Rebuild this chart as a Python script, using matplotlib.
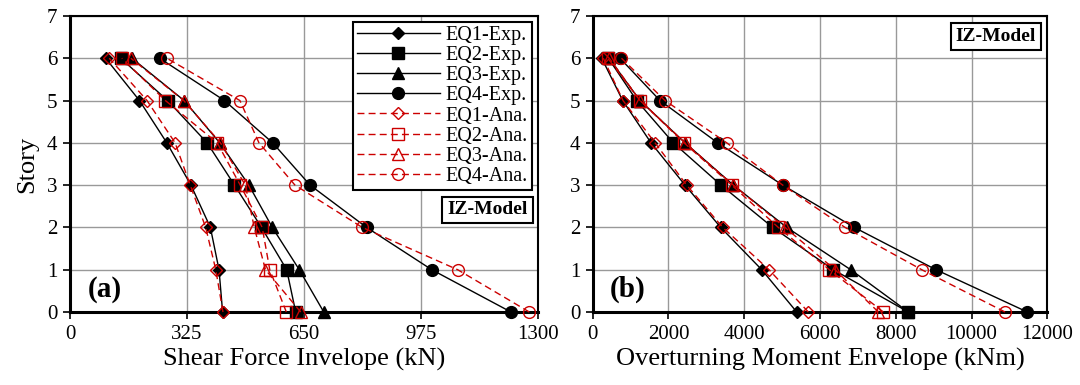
import matplotlib
matplotlib.use("Agg")
import matplotlib.pyplot as plt

plt.rcParams['font.family'] = ['Liberation Serif', 'DejaVu Serif']
plt.rcParams['mathtext.fontset'] = 'stix'

stories = [0, 1, 2, 3, 4, 5, 6]

# Shear force envelope (kN), story 0..6
shear_eq1_exp = [424, 414, 390, 336, 269, 193, 99]
shear_eq2_exp = [627, 602, 532, 457, 381, 271, 141]
shear_eq3_exp = [705, 637, 562, 497, 416, 317, 172]
shear_eq4_exp = [1225, 1005, 824, 667, 563, 429, 249]
shear_eq1_ana = [425, 405, 377, 334, 292, 214, 109]
shear_eq2_ana = [601, 555, 534, 473, 409, 265, 144]
shear_eq3_ana = [641, 543, 512, 487, 418, 316, 169]
shear_eq4_ana = [1276, 1077, 812, 625, 525, 472, 269]

# Overturning moment envelope (kNm), story 0..6
mom_eq1_exp = [5386, 4462, 3379, 2437, 1539, 792, 238]
mom_eq2_exp = [8332, 6352, 4752, 3387, 2128, 1161, 413]
mom_eq3_exp = [8332, 6811, 5122, 3713, 2437, 1249, 430]
mom_eq4_exp = [11473, 9063, 6906, 5016, 3300, 1777, 721]
mom_eq1_ana = [5692, 4654, 3432, 2481, 1645, 800, 280]
mom_eq2_ana = [7672, 6246, 4900, 3670, 2410, 1249, 400]
mom_eq3_ana = [7540, 6397, 5077, 3713, 2437, 1249, 440]
mom_eq4_ana = [10885, 8686, 6661, 5016, 3538, 1909, 760]

labels_exp = ['EQ1-Exp.', 'EQ2-Exp.', 'EQ3-Exp.', 'EQ4-Exp.']
labels_ana = ['EQ1-Ana.', 'EQ2-Ana.', 'EQ3-Ana.', 'EQ4-Ana.']
shear_xticks = [0, 325, 650, 975, 1300]
mom_xticks = [0, 2000, 4000, 6000, 8000, 10000, 12000]

RED = '#CC0000'
markers = ['D', 's', '^', 'o']
msizes = [6.5, 8, 8, 8.5]

fig = plt.figure(figsize=(10.8, 3.85), dpi=100)
ax1 = fig.add_axes([0.0648, 0.1896, 0.4333, 0.769])
ax2 = fig.add_axes([0.5488, 0.1896, 0.4209, 0.769])

def draw(ax, exp, ana):
    for i in range(4):
        ax.plot(exp[i], stories, color='black', lw=1.0, marker=markers[i],
                ms=msizes[i], mfc='black', mec='black', label=labels_exp[i],
                zorder=3, clip_on=False)
    for i in range(4):
        ax.plot(ana[i], stories, color=RED, lw=1.0, ls=(0, (5, 3)), marker=markers[i],
                ms=msizes[i], mfc='none', mec=RED, mew=1.0, label=labels_ana[i],
                zorder=4, clip_on=False)

draw(ax1, [shear_eq1_exp, shear_eq2_exp, shear_eq3_exp, shear_eq4_exp],
     [shear_eq1_ana, shear_eq2_ana, shear_eq3_ana, shear_eq4_ana])
draw(ax2, [mom_eq1_exp, mom_eq2_exp, mom_eq3_exp, mom_eq4_exp],
     [mom_eq1_ana, mom_eq2_ana, mom_eq3_ana, mom_eq4_ana])

for ax, xt, xmax, xl in [(ax1, shear_xticks, 1300, 'Shear Force Invelope (kN)'),
                         (ax2, mom_xticks, 12000, 'Overturning Moment Envelope (kNm)')]:
    ax.set_xlim(0, xmax)
    ax.set_ylim(0, 7)
    ax.set_xticks(xt)
    ax.set_yticks(range(0, 8))
    ax.grid(True, color='#999999', lw=1.0)
    ax.set_axisbelow(True)
    for s in ax.spines.values():
        s.set_linewidth(1.5)
    ax.spines['left'].set_linewidth(2.2)
    ax.spines['bottom'].set_linewidth(2.2)
    ax.tick_params(direction='out', length=5, width=1.2, labelsize=15, pad=4)
    ax.set_xlabel(xl, fontsize=19, labelpad=3)

ax1.set_ylabel('Story', fontsize=19, labelpad=6)

leg = ax1.legend(loc='upper right', fontsize=14.5, frameon=True, fancybox=False,
                 edgecolor='black', framealpha=1, borderpad=0.2, labelspacing=0.05,
                 handlelength=4.1, handletextpad=0.3, borderaxespad=0.3)
leg.get_frame().set_linewidth(1.5)
leg.set_zorder(10)

box = dict(boxstyle='square,pad=0.25', fc='white', ec='black', lw=1.5)
ax1.text(0.978, 0.345, 'IZ-Model', transform=ax1.transAxes, ha='right', va='center',
         fontsize=14, fontweight='bold', bbox=box, zorder=11)
ax2.text(0.975, 0.93, 'IZ-Model', transform=ax2.transAxes, ha='right', va='center',
         fontsize=14, fontweight='bold', bbox=box, zorder=11)

abox = dict(boxstyle='square,pad=0.1', fc='white', ec='none')
ax1.text(0.038, 0.03, '(a)', transform=ax1.transAxes, ha='left', va='bottom',
         fontsize=21, fontweight='bold', bbox=abox, zorder=2)
ax2.text(0.038, 0.03, '(b)', transform=ax2.transAxes, ha='left', va='bottom',
         fontsize=21, fontweight='bold', bbox=abox, zorder=2)

fig.savefig('out.png', dpi=100)
